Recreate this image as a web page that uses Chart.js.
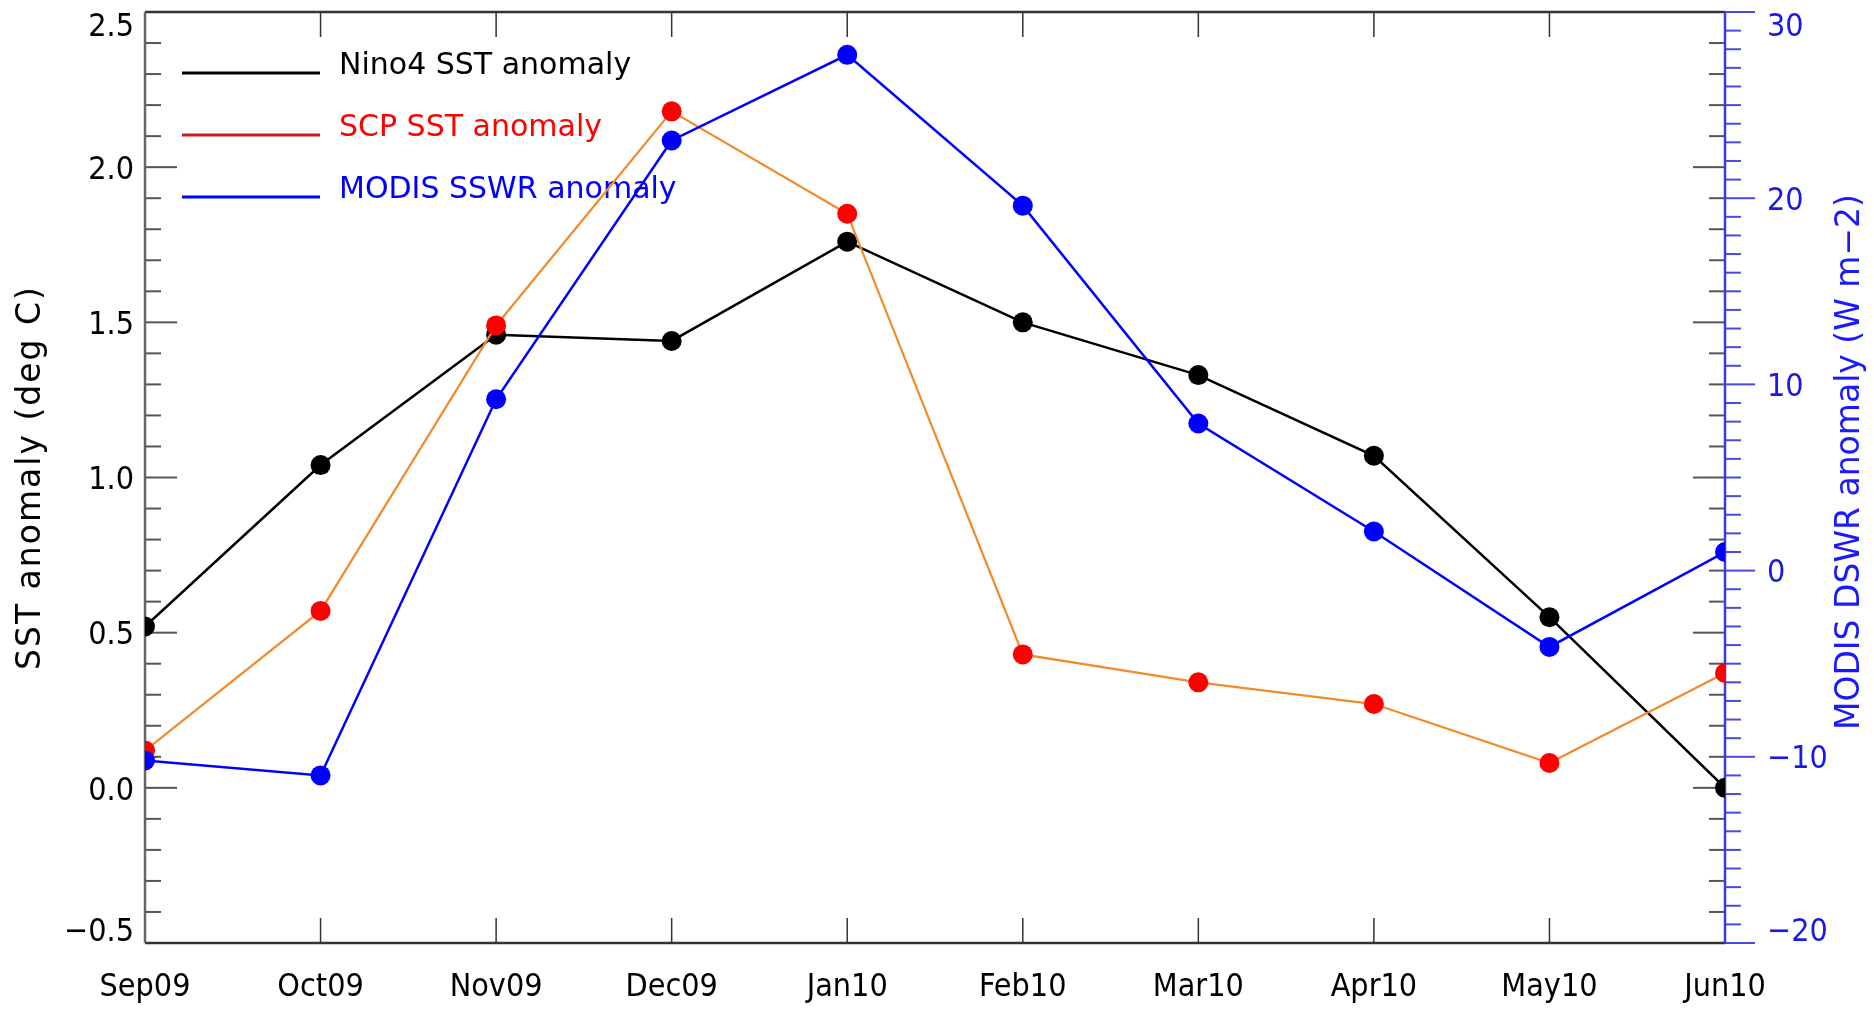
<!DOCTYPE html>
<html>
<head>
<meta charset="utf-8">
<script src="https://cdn.jsdelivr.net/npm/chart.js@4/dist/chart.umd.min.js"></script>
<style>
  html, body { margin: 0; padding: 0; background: #ffffff; }
  canvas { display: block; }
</style>
</head>
<body>
<canvas id="chart" width="1874" height="1010"></canvas>
<script>
// Monthly anomalies, Sep 2009 - Jun 2010
const months = ['Sep09', 'Oct09', 'Nov09', 'Dec09', 'Jan10', 'Feb10', 'Mar10', 'Apr10', 'May10', 'Jun10'];
const nino4Sst = [0.52, 1.04, 1.46, 1.44, 1.76, 1.50, 1.33, 1.07, 0.55, 0.00];
const scpSst   = [0.12, 0.57, 1.49, 2.18, 1.85, 0.43, 0.34, 0.27, 0.08, 0.37];
const modisSwr = [-10.2, -11.0, 9.2, 23.1, 27.7, 19.6, 7.9, 2.1, -4.1, 1.0];

// Axis tick values
const sstTicks = [-0.5, 0.0, 0.5, 1.0, 1.5, 2.0, 2.5];
const swrTicks = [-20, -10, 0, 10, 20, 30];

const seriesNames = ['Nino4 SST anomaly', 'SCP SST anomaly', 'MODIS SSWR anomaly'];
const leftTitle = 'SST anomaly (deg C)';
const rightTitle = 'MODIS DSWR anomaly (W m\u22122)';

const TICK_FONT = "'DejaVu Sans Condensed', 'DejaVu Sans', sans-serif";
const TEXT_FONT = "'DejaVu Sans', sans-serif";
const TICK_SIZE = 32;

function signed(v, digits) {
  const s = digits ? Math.abs(v).toFixed(digits) : String(Math.abs(v));
  return (v < 0 ? '\u2212' : '') + s;
}

function seg(ctx, x1, y1, x2, y2) {
  ctx.beginPath();
  ctx.moveTo(x1, y1);
  ctx.lineTo(x2, y2);
  ctx.stroke();
}

// Baseline for a vertical-axis label: end labels are kept inside the frame
function labelBaseline(py, area, cap) {
  if (Math.abs(py - area.top) < 1) return area.top + cap + 1;
  if (Math.abs(py - area.bottom) < 1) return area.bottom - 2;
  return py + cap / 2;
}

// Box frame with inward minor/major ticks, IDL style
const framePlugin = {
  id: 'frame',
  beforeDatasetsDraw(chart) {
    const { ctx, chartArea: a, scales } = chart;
    const x = scales.x, y = scales.y, y1 = scales.y1;
    ctx.save();
    ctx.lineCap = 'butt';

    // month ticks on bottom and top edges
    ctx.strokeStyle = '#333333';
    ctx.lineWidth = 1.5;
    months.forEach((m, i) => {
      const px = x.getPixelForValue(i);
      seg(ctx, px, a.bottom, px, a.bottom - 25);
      seg(ctx, px, a.top, px, a.top + 25);
    });

    // SST ticks: left edge, mirrored on right edge
    ctx.strokeStyle = '#555555';
    ctx.lineWidth = 2;
    for (let k = Math.round(y.min * 10); k <= Math.round(y.max * 10); k++) {
      const py = y.getPixelForValue(k / 10);
      const len = k % 5 === 0 ? 32 : 16;
      seg(ctx, a.left, py, a.left + len, py);
      seg(ctx, a.right, py, a.right - len, py);
    }

    // SWR ticks: outward from right edge
    ctx.strokeStyle = '#4a4ae0';
    ctx.lineWidth = 2;
    for (let v = y1.min; v <= y1.max; v++) {
      const py = y1.getPixelForValue(v);
      const len = v % 10 === 0 ? 30 : 16;
      seg(ctx, a.right, py, a.right + len, py);
    }

    // frame
    ctx.lineWidth = 2.5;
    ctx.strokeStyle = '#333333';
    seg(ctx, a.left, a.top, a.right, a.top);
    seg(ctx, a.left, a.bottom, a.right, a.bottom);
    ctx.strokeStyle = '#666666';
    seg(ctx, a.left, a.top, a.left, a.bottom);
    ctx.strokeStyle = '#3c3cdc';
    seg(ctx, a.right, a.top, a.right, a.bottom);

    // vertical-axis tick labels
    const cap = TICK_SIZE * 0.73;
    ctx.font = TICK_SIZE + 'px ' + TICK_FONT;
    ctx.textBaseline = 'alphabetic';
    ctx.fillStyle = '#000000';
    ctx.textAlign = 'right';
    sstTicks.forEach(v => {
      const py = y.getPixelForValue(v);
      ctx.fillText(signed(v, 1), a.left - 11, labelBaseline(py, a, cap));
    });
    ctx.fillStyle = '#1a1ae6';
    ctx.textAlign = 'left';
    swrTicks.forEach(v => {
      const py = y1.getPixelForValue(v);
      ctx.fillText(signed(v, 0), a.right + 42, labelBaseline(py, a, cap));
    });

    // legend
    const legendColors = ['#000000', '#d01818', '#0000ff'];
    const textColors = ['#000000', '#ff0000', '#0000ff'];
    ctx.font = '30px ' + TEXT_FONT;
    ctx.textAlign = 'left';
    ctx.textBaseline = 'alphabetic';
    seriesNames.forEach((name, i) => {
      const ly = 73 + i * 62;
      ctx.strokeStyle = legendColors[i];
      ctx.lineWidth = 3;
      seg(ctx, 182, ly, 320, ly);
      ctx.fillStyle = textColors[i];
      ctx.fillText(name, 339, ly + 1);
    });

    // axis titles
    ctx.textAlign = 'center';
    ctx.textBaseline = 'middle';
    ctx.save();
    ctx.translate(31, (a.top + a.bottom) / 2);
    ctx.rotate(-Math.PI / 2);
    ctx.font = '33px ' + TEXT_FONT;
    ctx.letterSpacing = '2px';
    ctx.fillStyle = '#000000';
    ctx.fillText(leftTitle, 0, 0);
    ctx.restore();

    ctx.save();
    ctx.translate(1850, 462);
    ctx.rotate(-Math.PI / 2);
    ctx.font = '33px ' + TEXT_FONT;
    ctx.fillStyle = '#1a1aff';
    ctx.fillText(rightTitle, 0, 0);
    ctx.restore();

    ctx.restore();
  }
};

function fixWidth(w) {
  return (scale) => { scale.width = w; scale.paddingTop = 0; scale.paddingBottom = 0; };
}

new Chart(document.getElementById('chart'), {
  type: 'line',
  data: {
    labels: months,
    datasets: [
      {
        label: seriesNames[2],
        data: modisSwr,
        yAxisID: 'y1',
        borderColor: '#0000ff',
        backgroundColor: '#0000ff',
        pointBackgroundColor: '#0000ff',
        borderWidth: 2.5,
        pointRadius: 10,
        pointBorderWidth: 0,
        clip: 0,
        order: 0
      },
      {
        label: seriesNames[1],
        data: scpSst,
        yAxisID: 'y',
        borderColor: '#f28a2a',
        backgroundColor: '#ff0000',
        pointBackgroundColor: '#ff0000',
        borderWidth: 2.2,
        pointRadius: 10,
        pointBorderWidth: 0,
        clip: 0,
        order: 1
      },
      {
        label: seriesNames[0],
        data: nino4Sst,
        yAxisID: 'y',
        borderColor: '#000000',
        backgroundColor: '#000000',
        pointBackgroundColor: '#000000',
        borderWidth: 2.5,
        pointRadius: 10,
        pointBorderWidth: 0,
        clip: 0,
        order: 2
      }
    ]
  },
  options: {
    responsive: false,
    devicePixelRatio: 1,
    animation: false,
    layout: { padding: { top: 12, left: 0, right: 0, bottom: 0 } },
    plugins: {
      legend: { display: false },
      tooltip: { enabled: false }
    },
    elements: { line: { tension: 0 } },
    scales: {
      x: {
        type: 'category',
        offset: false,
        grid: { display: false, drawTicks: false },
        border: { display: false },
        ticks: {
          color: '#000000',
          font: { family: TICK_FONT, size: TICK_SIZE },
          padding: 25,
          maxRotation: 0,
          autoSkip: false
        },
        afterFit: (scale) => { scale.height = 67; scale.paddingLeft = 0; scale.paddingRight = 0; }
      },
      y: {
        position: 'left',
        min: -0.5,
        max: 2.5,
        afterBuildTicks: (scale) => { scale.ticks = sstTicks.map(v => ({ value: v })); },
        grid: { display: false, drawTicks: false },
        border: { display: false },
        ticks: { display: false },
        afterFit: fixWidth(145)
      },
      y1: {
        position: 'right',
        min: -20,
        max: 30,
        afterBuildTicks: (scale) => { scale.ticks = swrTicks.map(v => ({ value: v })); },
        grid: { display: false, drawTicks: false },
        border: { display: false },
        ticks: { display: false },
        afterFit: fixWidth(149)
      }
    }
  },
  plugins: [framePlugin]
});
</script>
</body>
</html>
